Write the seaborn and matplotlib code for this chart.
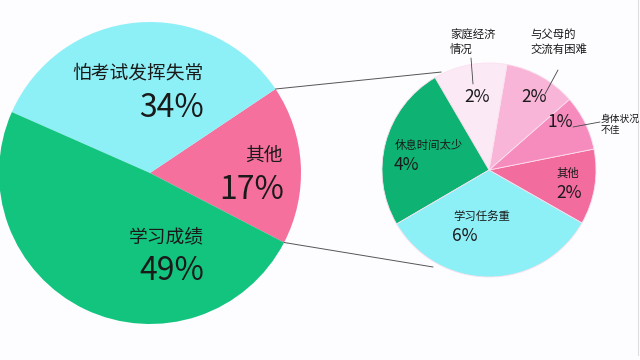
import numpy as np
import seaborn as sns
import matplotlib.pyplot as plt

# main pie (anticlockwise from the lower edge of "其他")
main_labels = ['其他', '怕考试发挥失常', '学习成绩']
main_values = [17, 34, 49]
main_pct = ['17%', '34%', '49%']

# breakdown of "其他" (wedge sizes in degrees)
detail_labels = ['其他', '身体状况\n不佳', '与父母的\n交流有困难', '家庭经济\n情况', '休息时间太少', '学习任务重']
detail_values = [41, 30, 39, 40, 90, 120]
detail_pct = ['2%', '1%', '2%', '2%', '4%', '6%']

sns.set_theme(style='white')
plt.rcParams['font.family'] = ['Noto Sans CJK SC', 'DejaVu Sans']

main_colors = ['#F5709C', '#8EF0F7', '#13C47F']
detail_colors = ['#F26C9E', '#F68CBE', '#F8B5D8', '#FBE9F6', '#0EB273', '#8EF0F7']
ink = '#1a1a1a'

fig = plt.figure(figsize=(6.4, 3.6), dpi=100, facecolor='#FDFCFE')
ax = fig.add_axes([0, 0, 1, 1])
ax.set_facecolor('#FDFCFE')

c1, r1 = (150, 187), 151
c2, r2 = (489, 190), 107

w1, _ = ax.pie(main_values, colors=main_colors, startangle=-27.4, counterclock=True,
               center=c1, radius=r1, wedgeprops=dict(linewidth=0))
w2, _ = ax.pie(detail_values, colors=detail_colors, startangle=-29.7, counterclock=True,
               center=c2, radius=r2, wedgeprops=dict(linewidth=0.6, edgecolor='#fbe0ee'))

ax.set_xlim(0, 640)
ax.set_ylim(0, 360)
ax.set_aspect('equal')
ax.axis('off')

# lines joining the "其他" wedge to the breakdown pie
pink = w1[0]
for a1, a2, rr in [(pink.theta2, 116, r2 + 2), (pink.theta1, 240, r2 + 5)]:
    p1 = (c1[0] + r1 * np.cos(np.radians(a1)), c1[1] + r1 * np.sin(np.radians(a1)))
    p2 = (c2[0] + rr * np.cos(np.radians(a2)), c2[1] + rr * np.sin(np.radians(a2)))
    ax.plot([p1[0], p2[0]], [p1[1], p2[1]], color='#555555', lw=0.7)

# main pie labels
cat_kw = dict(fontsize=13.5, color=ink)
pct_kw = dict(fontsize=23, color=ink)
ax.text(138, 287, main_labels[1], ha='center', va='center', **cat_kw)
ax.text(204, 252, main_pct[1], ha='right', va='center', **pct_kw)
ax.text(283, 205, main_labels[0], ha='right', va='center', **cat_kw)
ax.text(284, 170, main_pct[0], ha='right', va='center', **pct_kw)
ax.text(204, 123, main_labels[2], ha='right', va='center', **cat_kw)
ax.text(204, 89, main_pct[2], ha='right', va='center', **pct_kw)

# breakdown labels
sm = dict(fontsize=8.2, color=ink)
pc = dict(fontsize=12.5, color=ink)
ax.text(450, 318, detail_labels[3], ha='left', va='center', linespacing=1.4, **sm)
ax.text(477, 263, detail_pct[3], ha='center', va='center', **pc)
ax.plot([471, 473], [302, 276], color='#444444', lw=0.6)

ax.text(530, 318, detail_labels[2], ha='left', va='center', linespacing=1.4, **sm)
ax.text(534, 263, detail_pct[2], ha='center', va='center', **pc)
ax.plot([558, 545], [290, 266], color='#444444', lw=0.6)

ax.text(601, 236, detail_labels[1], ha='left', va='center', linespacing=1.15,
        fontsize=7, color=ink)
ax.text(560, 238, detail_pct[1], ha='center', va='center', **pc)
ax.plot([600, 573], [238, 233], color='#444444', lw=0.6)

ax.text(568, 187, detail_labels[0], ha='center', va='center', **sm)
ax.text(569, 167, detail_pct[0], ha='center', va='center', **pc)

ax.text(453, 143, detail_labels[5], ha='left', va='center', **sm)
ax.text(452, 124, detail_pct[5], ha='left', va='center', **pc)

ax.text(395, 215, detail_labels[4], ha='left', va='center', **sm)
ax.text(394, 195, detail_pct[4], ha='left', va='center', **pc)

ax.plot([638, 638], [5, 360], color='#dddddd', lw=0.8)

fig.savefig('out.png', dpi=100, facecolor=fig.get_facecolor())
